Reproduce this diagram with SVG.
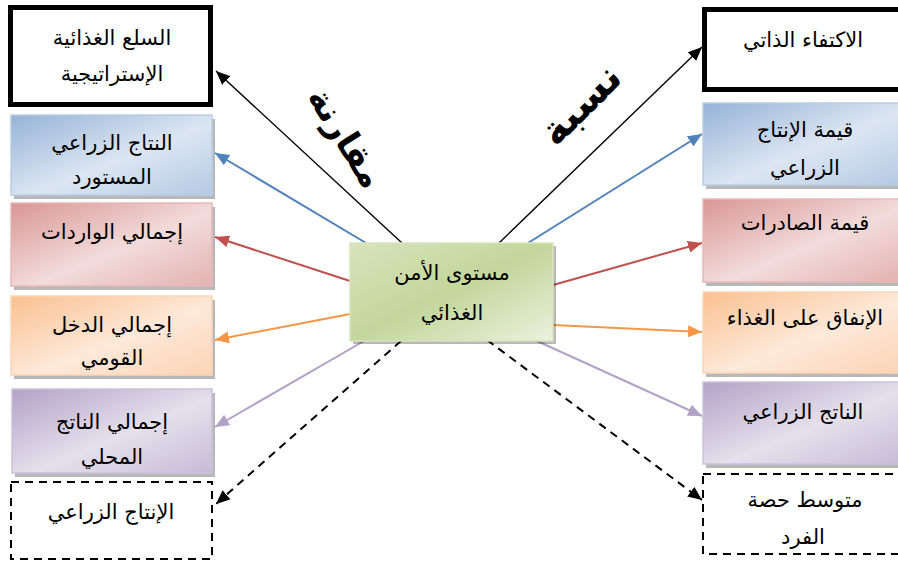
<svg xmlns="http://www.w3.org/2000/svg" width="898" height="564" viewBox="0 0 898 564">
<style>
  text { font-family: "DejaVu Sans", "Liberation Sans", sans-serif; font-size: 21px; fill: #000; text-anchor: middle; }
  .big1 { font-weight: bold; font-size: 34px; }
  .big2 { font-weight: bold; font-size: 40px; }
  .shadow { fill: #000; opacity: 0.28; }
  .thick { fill: #fff; stroke: #000; stroke-width: 5; }
  .dash { fill: #fff; stroke: #000; stroke-width: 2; stroke-dasharray: 8 6; }
  .ln { fill: none; }
</style>
<defs>
  <linearGradient id="gBlue" x1="0" y1="0" x2="1" y2="1">
    <stop offset="0" stop-color="#95b3d7"/><stop offset="0.55" stop-color="#dce6f2"/><stop offset="1" stop-color="#b4c9e3"/>
  </linearGradient>
  <linearGradient id="gRed" x1="0" y1="0" x2="1" y2="1">
    <stop offset="0" stop-color="#d99694"/><stop offset="0.55" stop-color="#f2dcdb"/><stop offset="1" stop-color="#e3b2b1"/>
  </linearGradient>
  <linearGradient id="gOrange" x1="0" y1="0" x2="1" y2="1">
    <stop offset="0" stop-color="#fac090"/><stop offset="0.55" stop-color="#fde9d9"/><stop offset="1" stop-color="#fbd3b4"/>
  </linearGradient>
  <linearGradient id="gPurple" x1="0" y1="0" x2="1" y2="1">
    <stop offset="0" stop-color="#b3a2c7"/><stop offset="0.55" stop-color="#e5e0ec"/><stop offset="1" stop-color="#c7bbd6"/>
  </linearGradient>
  <linearGradient id="gGreen" x1="0" y1="0" x2="1" y2="1">
    <stop offset="0" stop-color="#d7e4bd"/><stop offset="0.5" stop-color="#c3d69b"/><stop offset="1" stop-color="#ebf1de"/>
  </linearGradient>
  <marker id="aK" markerUnits="userSpaceOnUse" markerWidth="14" markerHeight="12" refX="14" refY="6" orient="auto"><path d="M0,0 L14,6 L0,12 z" fill="#000"/></marker>
  <marker id="aB" markerUnits="userSpaceOnUse" markerWidth="14" markerHeight="12" refX="14" refY="6" orient="auto"><path d="M0,0 L14,6 L0,12 z" fill="#4f81bd"/></marker>
  <marker id="aR" markerUnits="userSpaceOnUse" markerWidth="14" markerHeight="12" refX="14" refY="6" orient="auto"><path d="M0,0 L14,6 L0,12 z" fill="#c0504d"/></marker>
  <marker id="aO" markerUnits="userSpaceOnUse" markerWidth="14" markerHeight="12" refX="14" refY="6" orient="auto"><path d="M0,0 L14,6 L0,12 z" fill="#f79646"/></marker>
  <marker id="aP" markerUnits="userSpaceOnUse" markerWidth="14" markerHeight="12" refX="14" refY="6" orient="auto"><path d="M0,0 L14,6 L0,12 z" fill="#b2a1c7"/></marker>
</defs>

<g id="connectors">
  <line class="ln" x1="402" y1="243" x2="216" y2="71" stroke="#000" stroke-width="1.4" marker-end="url(#aK)"/>
  <line class="ln" x1="366" y1="243" x2="215" y2="153" stroke="#4f81bd" stroke-width="2" marker-end="url(#aB)"/>
  <line class="ln" x1="350" y1="281" x2="215" y2="237" stroke="#c0504d" stroke-width="2" marker-end="url(#aR)"/>
  <line class="ln" x1="350" y1="314" x2="215" y2="340" stroke="#f79646" stroke-width="2" marker-end="url(#aO)"/>
  <line class="ln" x1="364" y1="341" x2="215" y2="427" stroke="#b2a1c7" stroke-width="2" marker-end="url(#aP)"/>
  <line class="ln" x1="401" y1="341" x2="216" y2="504" stroke="#000" stroke-width="2" stroke-dasharray="8 6" marker-end="url(#aK)"/>
  <line class="ln" x1="499" y1="243" x2="702" y2="47" stroke="#000" stroke-width="1.4" marker-end="url(#aK)"/>
  <line class="ln" x1="528" y1="243" x2="702" y2="134" stroke="#4f81bd" stroke-width="2" marker-end="url(#aB)"/>
  <line class="ln" x1="553" y1="285" x2="702" y2="243" stroke="#c0504d" stroke-width="2" marker-end="url(#aR)"/>
  <line class="ln" x1="553" y1="325" x2="702" y2="332" stroke="#f79646" stroke-width="2" marker-end="url(#aO)"/>
  <line class="ln" x1="537" y1="341" x2="702" y2="416" stroke="#b2a1c7" stroke-width="2" marker-end="url(#aP)"/>
  <line class="ln" x1="487" y1="340" x2="702" y2="500" stroke="#000" stroke-width="2" stroke-dasharray="8 6" marker-end="url(#aK)"/>
</g>

<g id="label-compare">
  <text class="big1" transform="translate(336,144) rotate(58)">مقارنة</text>
</g>
<g id="label-ratio">
  <text class="big2" transform="translate(590,114) rotate(-45)">نسبة</text>
</g>

<g id="center">
  <rect class="shadow" x="353" y="246" width="203" height="98"/>
  <rect x="350" y="243" width="203" height="98" fill="url(#gGreen)" stroke="#d7e4bd" stroke-width="1.5"/>
  <text x="452" y="280">مستوى الأمن</text>
  <text x="452" y="320">الغذائي</text>
</g>

<g id="l1">
  <rect class="thick" x="10.5" y="7.5" width="200" height="97"/>
  <text x="112" y="45">السلع الغذائية</text>
  <text x="112" y="81">الإستراتيجية</text>
</g>
<g id="l2">
  <rect class="shadow" x="14" y="119" width="201" height="80"/>
  <rect x="11" y="115" width="201" height="80" fill="url(#gBlue)" stroke="#b9cde5" stroke-width="1.5"/>
  <text x="112" y="150">النتاج الزراعي</text>
  <text x="112" y="184">المستورد</text>
</g>
<g id="l3">
  <rect class="shadow" x="14" y="207" width="201" height="83"/>
  <rect x="11" y="203" width="201" height="83" fill="url(#gRed)" stroke="#e6b9b8" stroke-width="1.5"/>
  <text x="112" y="239">إجمالي الواردات</text>
</g>
<g id="l4">
  <rect class="shadow" x="14" y="300" width="201" height="79"/>
  <rect x="11" y="296" width="201" height="79" fill="url(#gOrange)" stroke="#fcd5b5" stroke-width="1.5"/>
  <text x="112" y="332">إجمالي الدخل</text>
  <text x="112" y="365">القومي</text>
</g>
<g id="l5">
  <rect class="shadow" x="15" y="393" width="200" height="84"/>
  <rect x="12" y="389" width="200" height="84" fill="url(#gPurple)" stroke="#ccc1da" stroke-width="1.5"/>
  <text x="112" y="429">إجمالي الناتج</text>
  <text x="112" y="464">المحلي</text>
</g>
<g id="l6">
  <rect class="dash" x="11" y="482" width="201" height="77"/>
  <text x="111" y="519">الإنتاج الزراعي</text>
</g>

<g id="r1">
  <rect class="thick" x="704.5" y="9.5" width="200" height="80"/>
  <text x="803" y="47">الاكتفاء الذاتي</text>
</g>
<g id="r2">
  <rect class="shadow" x="706" y="107" width="200" height="82"/>
  <rect x="703" y="103" width="200" height="82" fill="url(#gBlue)" stroke="#b9cde5" stroke-width="1.5"/>
  <text x="805" y="137">قيمة الإنتاج</text>
  <text x="805" y="175">الزراعي</text>
</g>
<g id="r3">
  <rect class="shadow" x="706" y="203" width="200" height="83"/>
  <rect x="703" y="199" width="200" height="83" fill="url(#gRed)" stroke="#e6b9b8" stroke-width="1.5"/>
  <text x="805" y="230">قيمة الصادرات</text>
</g>
<g id="r4">
  <rect class="shadow" x="706" y="296" width="200" height="81"/>
  <rect x="703" y="292" width="200" height="81" fill="url(#gOrange)" stroke="#fcd5b5" stroke-width="1.5"/>
  <text x="805" y="325">الإنفاق على الغذاء</text>
</g>
<g id="r5">
  <rect class="shadow" x="706" y="386" width="200" height="82"/>
  <rect x="703" y="382" width="200" height="82" fill="url(#gPurple)" stroke="#ccc1da" stroke-width="1.5"/>
  <text x="803" y="419">الناتج الزراعي</text>
</g>
<g id="r6">
  <rect class="dash" x="703" y="474" width="205" height="80"/>
  <text x="805" y="507">متوسط حصة</text>
  <text x="803" y="544">الفرد</text>
</g>
</svg>
